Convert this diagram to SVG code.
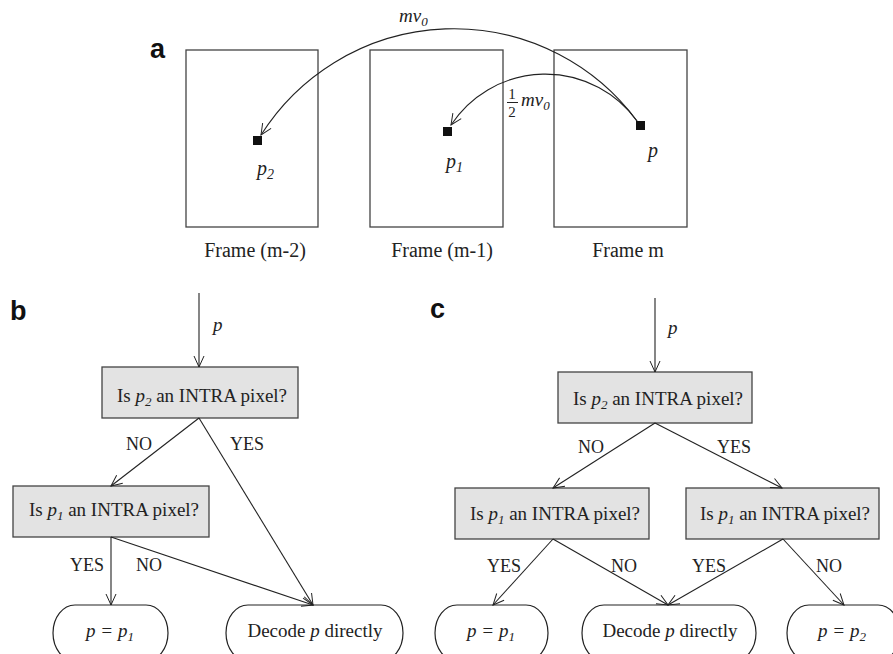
<svg xmlns="http://www.w3.org/2000/svg" width="893" height="654" viewBox="0 0 893 654">
<defs>
<marker id="ah" markerUnits="userSpaceOnUse" markerWidth="14" markerHeight="12" refX="12" refY="6" orient="auto"><path d="M1,1 L12,6 L1,11" fill="none" stroke="#222" stroke-width="1"/></marker>
</defs>
<style>
.t{font-family:"Liberation Serif","Times New Roman",serif;fill:#222}
.i{font-style:italic}
.lbl{font-family:"Liberation Sans",Arial,sans-serif;font-weight:bold;font-size:27px;fill:#111}
.frame{fill:#fff;stroke:#444;stroke-width:1.3}
.box{fill:#e3e3e3;stroke:#444;stroke-width:1.3}
.term{fill:#fff;stroke:#222;stroke-width:1.2}
.ln{fill:none;stroke:#222;stroke-width:1.1;marker-end:url(#ah)}
.sq{fill:#111}
.s19{font-size:19px}
.s18{font-size:18px}
.s20{font-size:20px}
</style>
<rect width="893" height="654" fill="#fff"/>

<!-- panel letters -->
<text class="lbl" x="150" y="58">a</text>
<text class="lbl" x="10" y="320">b</text>
<text class="lbl" x="430" y="318">c</text>

<!-- panel a -->
<g id="frame-m2">
<rect class="frame" x="186" y="50" width="132" height="177"/>
<rect class="sq" x="253" y="136" width="9" height="9"/>
<text class="t i s20" x="257" y="175">p<tspan font-size="14" dy="4">2</tspan></text>
<text class="t s20" x="255" y="257" text-anchor="middle">Frame (m-2)</text>
</g>
<g id="frame-m1">
<rect class="frame" x="370" y="50" width="133" height="177"/>
<rect class="sq" x="443" y="127" width="9" height="9"/>
<text class="t i s20" x="446" y="168">p<tspan font-size="14" dy="4">1</tspan></text>
<text class="t s20" x="442" y="257" text-anchor="middle">Frame (m-1)</text>
</g>
<g id="frame-m">
<rect class="frame" x="554" y="50" width="133" height="177"/>
<rect class="sq" x="636" y="121" width="9" height="9"/>
<text class="t i s20" x="648" y="157">p</text>
<text class="t s20" x="628" y="257" text-anchor="middle">Frame m</text>
</g>

<g id="motion-vectors">
<path class="ln" d="M637,121 A228,228 0 0 0 261,135"/>
<path class="ln" d="M637,121 A113,113 0 0 0 451,125"/>
<text class="t i s19" x="399" y="22">mv<tspan font-size="13" dy="4">0</tspan></text>
<text class="t" font-size="15" x="512" y="99" text-anchor="middle">1</text>
<line x1="507" y1="102.5" x2="518" y2="102.5" stroke="#222" stroke-width="1"/>
<text class="t" font-size="15" x="512" y="117" text-anchor="middle">2</text>
<text class="t i s19" x="521" y="106">mv<tspan font-size="13" dy="4">0</tspan></text>
</g>

<!-- panel b -->
<g id="b-q2">
<rect class="box" x="102" y="367" width="196" height="51"/>
<text class="t s19" x="202" y="402" text-anchor="middle">Is <tspan class="i">p</tspan><tspan class="i" font-size="13" dy="4">2</tspan><tspan dy="-4"> an INTRA pixel?</tspan></text>
</g>
<g id="b-q1">
<rect class="box" x="13" y="486" width="196" height="51"/>
<text class="t s19" x="114" y="516" text-anchor="middle">Is <tspan class="i">p</tspan><tspan class="i" font-size="13" dy="4">1</tspan><tspan dy="-4"> an INTRA pixel?</tspan></text>
</g>
<g id="b-p1">
<rect class="term" x="53" y="605" width="115" height="56" rx="22" ry="28"/>
<text class="t i s19" x="110" y="637" text-anchor="middle">p = p<tspan font-size="13" dy="4">1</tspan></text>
</g>
<g id="b-decode">
<rect class="term" x="226" y="605" width="177" height="56" rx="22" ry="28"/>
<text class="t s19" x="315" y="637" text-anchor="middle">Decode <tspan class="i">p</tspan> directly</text>
</g>

<!-- panel c -->
<g id="c-q2">
<rect class="box" x="558" y="372" width="194" height="51"/>
<text class="t s19" x="658" y="405" text-anchor="middle">Is <tspan class="i">p</tspan><tspan class="i" font-size="13" dy="4">2</tspan><tspan dy="-4"> an INTRA pixel?</tspan></text>
</g>
<g id="c-q1-left">
<rect class="box" x="455" y="488" width="194" height="51"/>
<text class="t s19" x="555" y="520" text-anchor="middle">Is <tspan class="i">p</tspan><tspan class="i" font-size="13" dy="4">1</tspan><tspan dy="-4"> an INTRA pixel?</tspan></text>
</g>
<g id="c-q1-right">
<rect class="box" x="686" y="488" width="193" height="51"/>
<text class="t s19" x="785" y="520" text-anchor="middle">Is <tspan class="i">p</tspan><tspan class="i" font-size="13" dy="4">1</tspan><tspan dy="-4"> an INTRA pixel?</tspan></text>
</g>
<g id="c-p1">
<rect class="term" x="435" y="605" width="113" height="56" rx="22" ry="28"/>
<text class="t i s19" x="491" y="637" text-anchor="middle">p = p<tspan font-size="13" dy="4">1</tspan></text>
</g>
<g id="c-decode">
<rect class="term" x="582" y="605" width="174" height="56" rx="22" ry="28"/>
<text class="t s19" x="670" y="637" text-anchor="middle">Decode <tspan class="i">p</tspan> directly</text>
</g>
<g id="c-p2">
<rect class="term" x="787" y="605" width="113" height="56" rx="22" ry="28"/>
<text class="t i s19" x="842" y="637" text-anchor="middle">p = p<tspan font-size="13" dy="4">2</tspan></text>
</g>

<!-- connectors -->
<g id="connectors">
<line class="ln" x1="199" y1="293" x2="199" y2="367"/>
<line class="ln" x1="199" y1="418" x2="111" y2="486"/>
<line class="ln" x1="199" y1="418" x2="313" y2="605"/>
<line class="ln" x1="111" y1="537" x2="111" y2="605"/>
<line class="ln" x1="111" y1="537" x2="313" y2="605"/>
<line class="ln" x1="655" y1="298" x2="655" y2="372"/>
<line class="ln" x1="655" y1="423" x2="553" y2="488"/>
<line class="ln" x1="655" y1="423" x2="782" y2="488"/>
<line class="ln" x1="553" y1="539" x2="493" y2="605"/>
<line class="ln" x1="553" y1="539" x2="668" y2="605"/>
<line class="ln" x1="783" y1="539" x2="668" y2="605"/>
<line class="ln" x1="783" y1="539" x2="844" y2="605"/>
</g>

<g id="edge-labels">
<text class="t i s19" x="213" y="331">p</text>
<text class="t s18" x="126" y="450">NO</text>
<text class="t s18" x="230" y="450">YES</text>
<text class="t s18" x="70" y="571">YES</text>
<text class="t s18" x="136" y="571">NO</text>
<text class="t i s19" x="668" y="334">p</text>
<text class="t s18" x="578" y="453">NO</text>
<text class="t s18" x="717" y="453">YES</text>
<text class="t s18" x="487" y="572">YES</text>
<text class="t s18" x="611" y="572">NO</text>
<text class="t s18" x="692" y="572">YES</text>
<text class="t s18" x="816" y="572">NO</text>
</g>
</svg>
